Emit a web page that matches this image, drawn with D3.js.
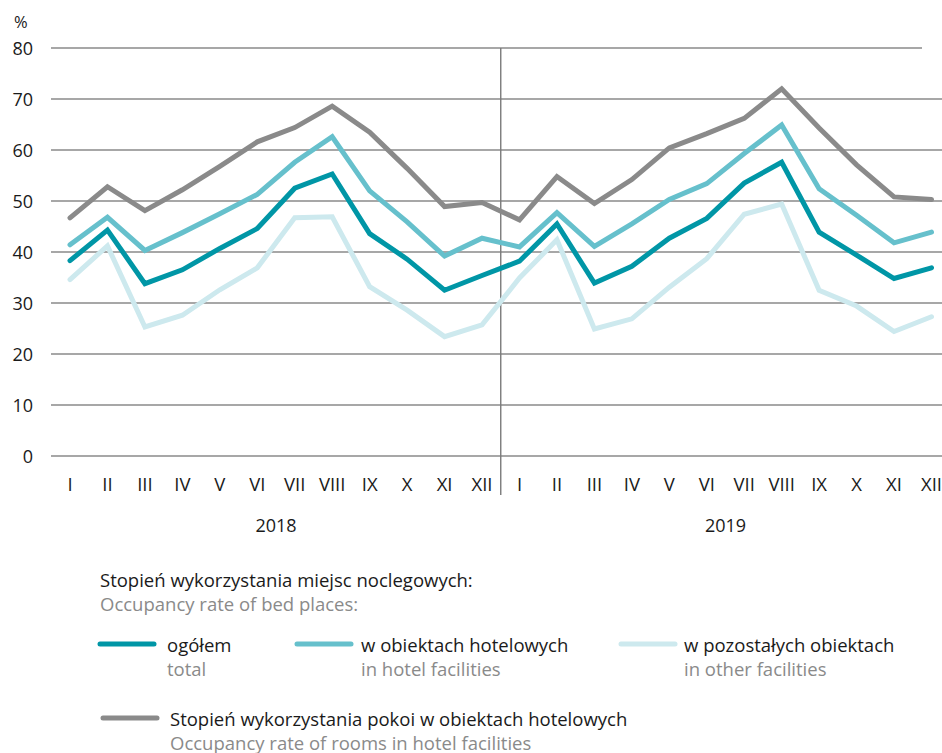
<!DOCTYPE html>
<html>
<head>
<meta charset="utf-8">
<script src="https://cdn.jsdelivr.net/npm/d3@7"></script>
<style>
  body { margin: 0; background: #fff; }
  svg text { font-family: "Open Sans", "Noto Sans", sans-serif; }
</style>
</head>
<body>
<div id="chart"></div>
<script>
// months (roman numerals) and years
var months = ["I","II","III","IV","V","VI","VII","VIII","IX","X","XI","XII"];
var years = ["2018", "2019"];
var yTicks = [0, 10, 20, 30, 40, 50, 60, 70, 80];

// occupancy rate of bed places: total
var total = [38.3, 44.3, 33.8, 36.5, 40.7, 44.6, 52.5, 55.3, 43.6, 38.6, 32.5, 35.4,
             38.2, 45.5, 33.9, 37.2, 42.7, 46.6, 53.5, 57.6, 43.9, 39.4, 34.8, 36.9];
// in hotel facilities
var hotel = [41.4, 46.8, 40.3, 43.8, 47.5, 51.3, 57.6, 62.6, 52.0, 45.9, 39.2, 42.7,
             41.0, 47.7, 41.1, 45.5, 50.3, 53.4, 59.3, 64.9, 52.4, 47.2, 41.8, 43.9];
// in other facilities
var other = [34.6, 41.2, 25.3, 27.6, 32.6, 36.9, 46.7, 46.9, 33.2, 28.6, 23.4, 25.7,
             34.9, 42.4, 24.9, 26.9, 33.1, 38.7, 47.4, 49.4, 32.5, 29.4, 24.4, 27.3];
// occupancy rate of rooms in hotel facilities
var rooms = [46.7, 52.8, 48.1, 52.2, 56.8, 61.6, 64.4, 68.6, 63.5, 56.4, 48.9, 49.7,
             46.3, 54.8, 49.5, 54.2, 60.4, 63.2, 66.2, 72.0, 64.3, 57.1, 50.8, 50.3];

var width = 942, height = 753;

var svg = d3.select("#chart").append("svg")
    .attr("width", width)
    .attr("height", height);

// one entry per month over both years
var idx = d3.range(months.length * years.length);

var xScale = d3.scalePoint()
    .domain(idx)
    .range([70, 931.5]);

var yScale = d3.scaleLinear()
    .domain([0, 80])
    .range([456, 48]);

// horizontal gridlines
svg.append("g")
    .selectAll("line")
    .data(yTicks)
  .enter().append("line")
    .attr("x1", 51)
    .attr("x2", function(d) { return d === 80 ? 922 : width; })
    .attr("y1", function(d) { return yScale(d); })
    .attr("y2", function(d) { return yScale(d); })
    .attr("stroke", "#8a8a8a")
    .attr("stroke-width", 1.4);

// y tick labels
svg.append("g")
    .selectAll("text")
    .data(yTicks)
  .enter().append("text")
    .attr("x", 33)
    .attr("y", function(d) { return yScale(d) + 6.5; })
    .attr("text-anchor", "end")
    .attr("font-size", 18)
    .attr("fill", "#1a1a1a")
    .text(function(d) { return d; });

svg.append("text")
    .attr("x", 14)
    .attr("y", 28)
    .attr("font-size", 16.5)
    .attr("fill", "#1a1a1a")
    .text("%");

// separator between years
var sepX = (xScale(11) + xScale(12)) / 2;
svg.append("line")
    .attr("x1", sepX).attr("x2", sepX)
    .attr("y1", yScale(80)).attr("y2", 495)
    .attr("stroke", "#7a7a7a")
    .attr("stroke-width", 1.4);

// month labels
svg.append("g")
    .selectAll("text")
    .data(idx)
  .enter().append("text")
    .attr("x", function(d) { return xScale(d); })
    .attr("y", 491)
    .attr("text-anchor", "middle")
    .attr("font-size", 18.5)
    .attr("fill", "#1a1a1a")
    .text(function(d) { return months[d % 12]; });

// year labels
svg.append("g")
    .selectAll("text")
    .data(years)
  .enter().append("text")
    .attr("x", function(d, i) { return (xScale(i * 12) + xScale(i * 12 + 11)) / 2; })
    .attr("y", 532)
    .attr("text-anchor", "middle")
    .attr("font-size", 18)
    .attr("fill", "#1a1a1a")
    .text(function(d) { return d; });

// series lines
var series = [
  {values: other, color: "#cde9ee"},
  {values: rooms, color: "#8a8a8a"},
  {values: hotel, color: "#66c0cc"},
  {values: total, color: "#0096a6"}
];

var line = d3.line()
    .x(function(d, i) { return xScale(i); })
    .y(function(d) { return yScale(d); });

svg.append("g")
    .selectAll("path")
    .data(series)
  .enter().append("path")
    .attr("d", function(d) { return line(d.values); })
    .attr("fill", "none")
    .attr("stroke", function(d) { return d.color; })
    .attr("stroke-width", 5)
    .attr("stroke-linejoin", "miter")
    .attr("stroke-linecap", "round");

// legend
var legend = svg.append("g");

legend.append("text")
    .attr("x", 100).attr("y", 587)
    .attr("font-size", 18.5).attr("fill", "#1a1a1a")
    .text("Stopień wykorzystania miejsc noclegowych:");
legend.append("text")
    .attr("x", 100).attr("y", 611)
    .attr("font-size", 18.5).attr("fill", "#8a8a8a")
    .text("Occupancy rate of bed places:");

var legendItems = [
  {x: 100, tx: 167, y: 644, color: "#0096a6", pl: "ogółem", en: "total"},
  {x: 297, tx: 361, y: 644, color: "#66c0cc", pl: "w obiektach hotelowych", en: "in hotel facilities"},
  {x: 621, tx: 684, y: 644, color: "#cde9ee", pl: "w pozostałych obiektach", en: "in other facilities"},
  {x: 103, tx: 170, y: 718, color: "#8a8a8a", pl: "Stopień wykorzystania pokoi w obiektach hotelowych", en: "Occupancy rate of rooms in hotel facilities"}
];

var item = legend.selectAll(".item")
    .data(legendItems)
  .enter().append("g")
    .attr("class", "item");

item.append("line")
    .attr("x1", function(d) { return d.x; })
    .attr("x2", function(d) { return d.x + 54; })
    .attr("y1", function(d) { return d.y; })
    .attr("y2", function(d) { return d.y; })
    .attr("stroke", function(d) { return d.color; })
    .attr("stroke-width", 5)
    .attr("stroke-linecap", "round");

item.append("text")
    .attr("x", function(d) { return d.tx; })
    .attr("y", function(d) { return d.y + 7.5; })
    .attr("font-size", 18.5).attr("fill", "#1a1a1a")
    .text(function(d) { return d.pl; });

item.append("text")
    .attr("x", function(d) { return d.tx; })
    .attr("y", function(d) { return d.y + 31.5; })
    .attr("font-size", 18.5).attr("fill", "#8a8a8a")
    .text(function(d) { return d.en; });
</script>
</body>
</html>
